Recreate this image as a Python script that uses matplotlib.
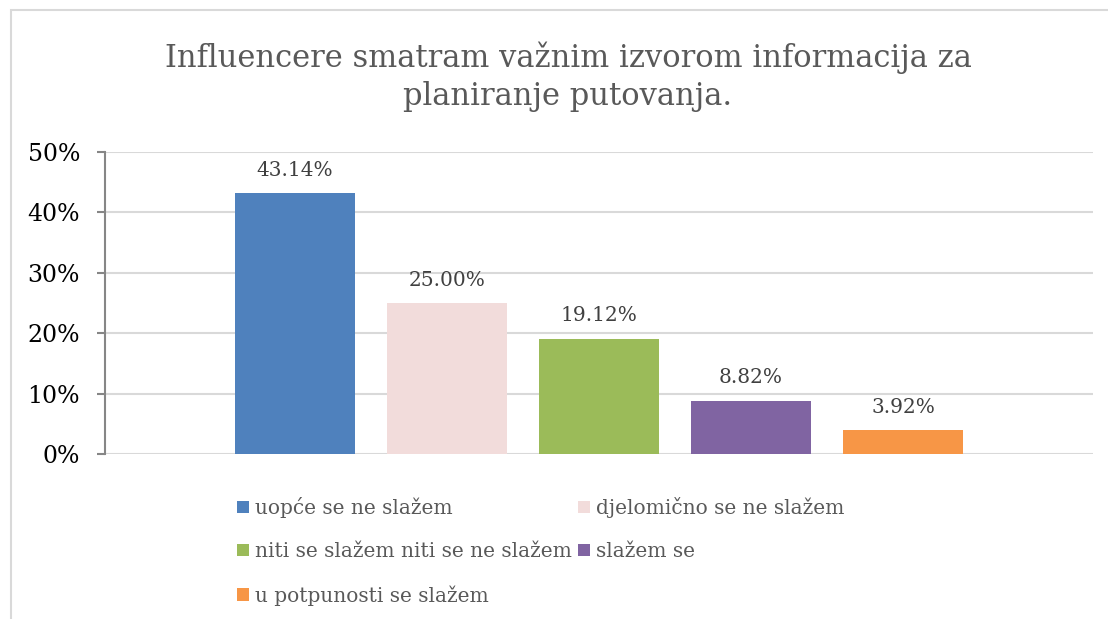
import numpy as np
import matplotlib
matplotlib.use("Agg")
import matplotlib.pyplot as plt
from matplotlib.patches import Rectangle, Patch

# data
categories = ["uopće se ne slažem", "djelomično se ne slažem",
              "niti se slažem niti se ne slažem", "slažem se",
              "u potpunosti se slažem"]
values = [43.14, 25.00, 19.12, 8.82, 3.92]
colors = ["#4f81bd", "#f2dcdb", "#9bbb59", "#8064a2", "#f79646"]
yticks = [0, 10, 20, 30, 40, 50]
title = "Influencere smatram važnim izvorom informacija za\nplaniranje putovanja."

plt.rcParams["font.family"] = ["DejaVu Serif"]

W, H = 1108, 619
fig = plt.figure(figsize=(W / 100, H / 100), dpi=100)

# light outer frame of the chart
fig.patches.append(Rectangle((11 / W, -0.1), 1.2, 1 - 10 / H + 0.1,
                             transform=fig.transFigure, fill=False,
                             edgecolor="#d9d9d9", linewidth=1.5))

ax = fig.add_axes([105 / W, (H - 454) / H, (1093 - 105) / W, (454 - 152) / H])

x = np.arange(len(values))
bars = ax.bar(x, values, width=0.79, color=colors, zorder=3)

for xi, v in zip(x, values):
    ax.text(xi, v + 2.2, f"{v:.2f}%", ha="center", va="bottom",
            fontsize=14.5, color="#404040")

ax.set_xlim(-1.25, 5.25)
ax.set_ylim(0, 50)
ax.set_yticks(yticks)
ax.set_yticklabels([f"{t}%" for t in yticks], fontsize=17, color="black")
ax.set_xticks([])
ax.grid(axis="y", color="#d9d9d9", linewidth=1.5, zorder=0)
for s in ["top", "right", "bottom"]:
    ax.spines[s].set_visible(False)
ax.spines["left"].set_color("#868686")
ax.spines["left"].set_linewidth(1.5)
ax.tick_params(axis="y", length=6, width=1.5, color="#868686", pad=12)

fig.text(568 / W, 1 - 77 / H, title, ha="center", va="center",
         fontsize=22, color="#595959", linespacing=1.3)

handles = [Patch(facecolor=c) for c in colors]
order = [0, 2, 4, 1, 3]
leg = fig.legend([handles[i] for i in order], [categories[i] for i in order],
                 ncol=2, loc="upper left", bbox_to_anchor=(237 / W, 1 - 497 / H),
                 frameon=False, fontsize=14.5, handlelength=0.6, handleheight=0.6,
                 handletextpad=0.3, columnspacing=0.3, labelspacing=1.2,
                 borderpad=0, borderaxespad=0)
for t in leg.get_texts():
    t.set_color("#595959")

fig.savefig("out.png", dpi=100, facecolor="white")
